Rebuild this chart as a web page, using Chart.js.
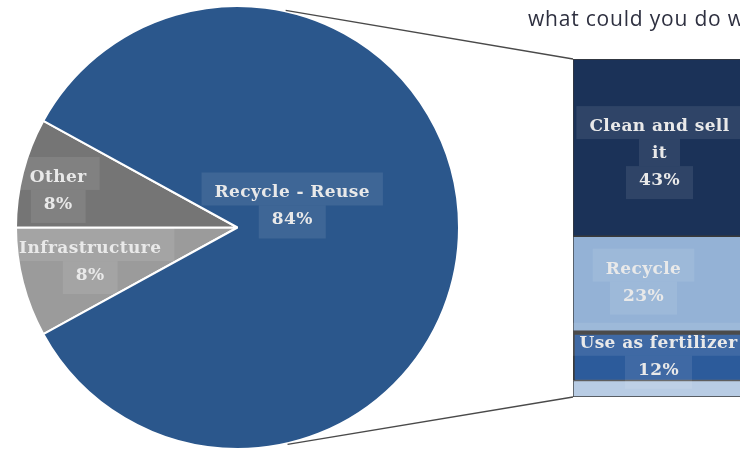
<!DOCTYPE html>
<html>
<head>
<meta charset="utf-8">
<script src="https://cdn.jsdelivr.net/npm/chart.js@4.4.1/dist/chart.umd.min.js"></script>
<style>
  html, body { margin: 0; padding: 0; background: #fff; overflow: hidden; }
  #wrap { position: relative; width: 740px; height: 452px; overflow: hidden; }
  #wrap canvas { position: absolute; left: 0; top: 0; }
</style>
</head>
<body>
<div id="wrap">
  <canvas id="pie" width="740" height="452"></canvas>
  <canvas id="bar" width="750" height="452"></canvas>
</div>
<script>
// pie: main split
const pieLabels = ['Infrastructure', 'Other', 'Recycle - Reuse'];
const pieValues = [8, 8, 84];
const pieColors = ['#9b9b9b', '#757575', '#2b578c'];

// bar: breakdown of Recycle - Reuse, top to bottom
const barLabels = ['Clean and sell\nit', 'Recycle', 'Use as fertilizer', ''];
const barValues = [43, 23, 12, 4];
const barColors = ['#1b3258', '#94b2d6', '#2c5b9b', '#b8cce4'];
const barBorders = [1, 1, {top: 4, left: 2, right: 0, bottom: 1}, 1];

const titleText = 'what could you do w';

const labelFont = 'bold 17px "DejaVu Serif"';
const boxFill = 'rgba(255,255,255,0.09)';

// label offsets from each element's centre point
const pieLabelShift = [[-40, 6], [-72, -10], [-56, -22]];
const barLabelShift = [[-2, 5], [-18, -2], [-3, 0], [0, 0]];

function boxLabel(ctx, lines, x, y) {
  const lh = 27;
  ctx.save();
  ctx.font = labelFont;
  ctx.letterSpacing = '0.4px';
  ctx.textAlign = 'center';
  ctx.textBaseline = 'middle';
  const top = y - lines.length * lh / 2;
  lines.forEach((t, i) => {
    const w = ctx.measureText(t).width + 26;
    let y0 = top + lh * i, y1 = y0 + lh;
    if (i === 0) y0 -= 6;
    if (i === lines.length - 1) y1 += 6;
    ctx.fillStyle = boxFill;
    ctx.fillRect(x - w / 2, y0, w, y1 - y0);
  });
  ctx.fillStyle = '#e9e9e9';
  lines.forEach((t, i) => ctx.fillText(t, x, top + lh * i + lh / 2 + 1));
  ctx.restore();
}

const pieTotal = pieValues.reduce((a, b) => a + b, 0);

const pieLabelPlugin = {
  id: 'pieLabels',
  afterDatasetsDraw(chart) {
    const ctx = chart.ctx;
    chart.getDatasetMeta(0).data.forEach((arc, i) => {
      const p = arc.tooltipPosition();
      const pct = Math.round(pieValues[i] / pieTotal * 100) + '%';
      boxLabel(ctx, [pieLabels[i], pct], p.x + pieLabelShift[i][0], p.y + pieLabelShift[i][1]);
    });
  }
};

const pieChart = new Chart(document.getElementById('pie'), {
  type: 'pie',
  data: {
    labels: pieLabels,
    datasets: [{
      data: pieValues,
      backgroundColor: pieColors,
      borderColor: '#ffffff',
      borderWidth: 2
    }]
  },
  options: {
    responsive: false,
    animation: false,
    rotation: 270 - pieValues[0] / pieTotal * 360,
    layout: { padding: { left: 15, right: 280, top: 5, bottom: 2 } },
    plugins: { legend: { display: false }, tooltip: { enabled: false } }
  },
  plugins: [pieLabelPlugin]
});

// stacked bar draws bottom-up, so reverse
const order = barValues.map((v, i) => i).reverse();
const barTotal = barValues.reduce((a, b) => a + b, 0);

const barExtras = {
  id: 'barExtras',
  afterDatasetsDraw(chart) {
    const ctx = chart.ctx;
    // labels
    order.forEach((src, di) => {
      if (!barLabels[src]) return;
      const el = chart.getDatasetMeta(di).data[0];
      const cy = (el.y + el.base) / 2;
      const lines = barLabels[src].split('\n').concat(barValues[src] + '%');
      boxLabel(ctx, lines, el.x + barLabelShift[src][0], cy + barLabelShift[src][1]);
    });
    // connector lines from pie to bar
    const arc = pieChart.getDatasetMeta(0).data[2];
    const R = arc.outerRadius + 1;
    const topEl = chart.getDatasetMeta(order.length - 1).data[0];
    const botEl = chart.getDatasetMeta(0).data[0];
    const left = topEl.x - topEl.width / 2;
    const a1 = -77.5 * Math.PI / 180, a2 = 77 * Math.PI / 180;
    ctx.save();
    ctx.strokeStyle = '#4a4a4a';
    ctx.lineWidth = 1.3;
    ctx.beginPath();
    ctx.moveTo(arc.x + R * Math.cos(a1), arc.y + R * Math.sin(a1));
    ctx.lineTo(left, topEl.y);
    ctx.moveTo(arc.x + R * Math.cos(a2), arc.y + R * Math.sin(a2));
    ctx.lineTo(left, botEl.base);
    ctx.stroke();
    // title (cut off at the right edge)
    ctx.font = '21px "Open Sans"';
    ctx.letterSpacing = '0.8px';
    ctx.fillStyle = '#2e3040';
    ctx.textBaseline = 'alphabetic';
    ctx.fillText(titleText, 528, 26);
    ctx.restore();
  }
};

new Chart(document.getElementById('bar'), {
  type: 'bar',
  data: {
    labels: [''],
    datasets: order.map(i => ({
      label: barLabels[i],
      data: [barValues[i]],
      backgroundColor: barColors[i],
      borderColor: '#3a3a3a',
      borderWidth: barBorders[i],
      borderSkipped: false,
      categoryPercentage: 1,
      barPercentage: 1
    }))
  },
  options: {
    responsive: false,
    animation: false,
    layout: { padding: { left: 573, right: 0, top: 59, bottom: 55 } },
    scales: {
      x: { display: false, stacked: true },
      y: { display: false, stacked: true, min: 0, max: barTotal }
    },
    plugins: { legend: { display: false }, tooltip: { enabled: false } }
  },
  plugins: [barExtras]
});
</script>
</body>
</html>
